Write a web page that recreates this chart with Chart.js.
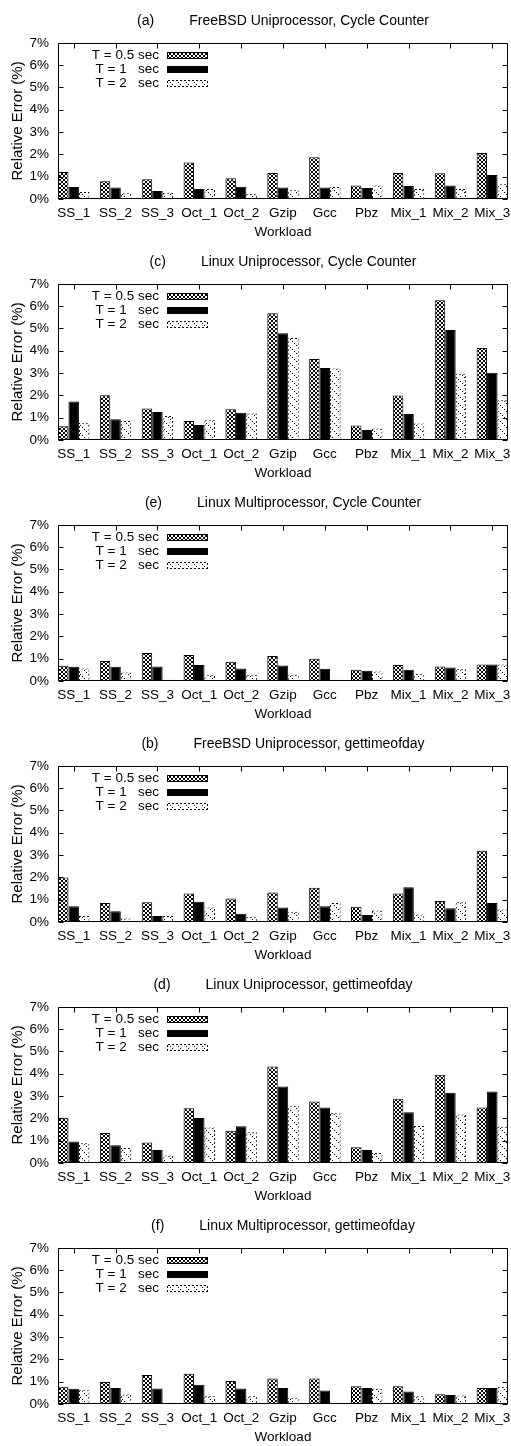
<!DOCTYPE html>
<html>
<head>
<meta charset="utf-8">
<script src="https://cdn.jsdelivr.net/npm/chart.js@4"></script>
<style>
  body { margin: 0; background: #fff; }
  canvas { display: block; }
</style>
</head>
<body>
<canvas id="pa" width="511" height="241"></canvas>
<canvas id="pc" width="511" height="241"></canvas>
<canvas id="pe" width="511" height="241"></canvas>
<canvas id="pb" width="511" height="241"></canvas>
<canvas id="pd" width="511" height="241"></canvas>
<canvas id="pf" width="511" height="241"></canvas>
<script>
Chart.defaults.font.family = '"Liberation Sans", Arial, sans-serif';
Chart.defaults.font.size = 13.5;
Chart.defaults.color = '#000';

const workloads = ['SS_1', 'SS_2', 'SS_3', 'Oct_1', 'Oct_2', 'Gzip', 'Gcc', 'Pbz', 'Mix_1', 'Mix_2', 'Mix_3'];
const periods = ['T = 0.5 sec', 'T = 1   sec', 'T = 2   sec'];
const yTicks = [0, 1, 2, 3, 4, 5, 6, 7];

// (a) FreeBSD Uniprocessor, Cycle Counter
const a05 = [1.21, 0.79, 0.88, 1.64, 0.93, 1.17, 1.87, 0.61, 1.17, 1.15, 2.06];
const a1  = [0.54, 0.51, 0.36, 0.45, 0.55, 0.52, 0.52, 0.49, 0.58, 0.60, 1.08];
const a2  = [0.31, 0.28, 0.28, 0.45, 0.24, 0.39, 0.54, 0.61, 0.45, 0.45, 0.66];
// (c) Linux Uniprocessor, Cycle Counter
const c05 = [0.62, 2.00, 1.41, 0.85, 1.38, 5.68, 3.63, 0.65, 1.99, 6.26, 4.12];
const c1  = [1.72, 0.93, 1.26, 0.67, 1.22, 4.78, 3.23, 0.45, 1.16, 4.93, 3.01];
const c2  = [0.77, 0.85, 1.07, 0.89, 1.19, 4.57, 3.20, 0.52, 0.74, 2.97, 1.78];
// (e) Linux Multiprocessor, Cycle Counter
const e05 = [0.68, 0.90, 1.26, 1.17, 0.86, 1.12, 1.00, 0.50, 0.72, 0.65, 0.74];
const e1  = [0.64, 0.64, 0.65, 0.72, 0.56, 0.69, 0.55, 0.46, 0.50, 0.60, 0.74];
const e2  = [0.56, 0.38, 0.06, 0.28, 0.28, 0.28, 0.06, 0.43, 0.32, 0.53, 0.74];
// (b) FreeBSD Uniprocessor, gettimeofday
const b05 = [1.99, 0.85, 0.88, 1.28, 1.05, 1.32, 1.53, 0.68, 1.28, 0.94, 3.19];
const b1  = [0.71, 0.48, 0.27, 0.91, 0.37, 0.65, 0.71, 0.31, 1.56, 0.62, 0.85];
const b2  = [0.27, 0.16, 0.27, 0.65, 0.24, 0.46, 0.85, 0.52, 0.34, 0.89, 0.56];
// (d) Linux Uniprocessor, gettimeofday
const d05 = [2.03, 1.34, 0.92, 2.45, 1.45, 4.32, 2.76, 0.71, 2.88, 3.95, 2.49];
const d1  = [0.96, 0.80, 0.58, 2.02, 1.65, 3.43, 2.49, 0.58, 2.27, 3.15, 3.20];
const d2  = [0.89, 0.67, 0.34, 1.59, 1.38, 2.57, 2.23, 0.45, 1.66, 2.17, 1.63];
// (f) Linux Multiprocessor, gettimeofday
const f05 = [0.77, 0.99, 1.30, 1.36, 1.03, 1.14, 1.14, 0.80, 0.80, 0.44, 0.72];
const f1  = [0.68, 0.72, 0.69, 0.86, 0.69, 0.72, 0.61, 0.72, 0.56, 0.40, 0.72];
const f2  = [0.62, 0.43, 0.06, 0.35, 0.35, 0.28, 0.06, 0.68, 0.35, 0.38, 0.77];

// little pixel tiles for the gnuplot style fills
function tile(size, ink) {
  const c = document.createElement('canvas');
  c.width = size; c.height = size;
  const g = c.getContext('2d');
  g.fillStyle = '#fff';
  g.fillRect(0, 0, size, size);
  g.fillStyle = '#000';
  for (let y = 0; y < size; y++)
    for (let x = 0; x < size; x++)
      if (ink(x, y)) g.fillRect(x, y, 1, 1);
  return g.createPattern(c, 'repeat');
}

const crossFill = tile(4, (x, y) => x === y || x + y === 3);
const dotFill = tile(8, (x, y) => x === y && x % 2 === 0);
const dotEdge = tile(4, (x, y) => (x + y) % 4 < 2);
const fills = [crossFill, '#000', dotFill];
const edges = ['#000', '#000', dotEdge];

// box round the plot, with the ticks pointing inwards
const framePlugin = {
  id: 'frame',
  afterDatasetsDraw(chart) {
    const { ctx, chartArea: a, scales: { x, y } } = chart;
    const L = Math.round(a.left) + 0.5, R = Math.round(a.right) - 0.5;
    const T = Math.round(a.top) + 0.5, B = Math.round(a.bottom) - 0.5;
    ctx.save();
    ctx.strokeStyle = '#000';
    ctx.lineWidth = 1;
    ctx.beginPath();
    x.ticks.forEach(t => {
      const px = Math.round(x.getPixelForValue(t.value)) + 0.5;
      ctx.moveTo(px, T); ctx.lineTo(px, T + 5);
      ctx.moveTo(px, B); ctx.lineTo(px, B - 5);
    });
    y.ticks.forEach(t => {
      const py = Math.round(y.getPixelForValue(t.value)) + 0.5;
      ctx.moveTo(L, py); ctx.lineTo(L + 5, py);
      ctx.moveTo(R, py); ctx.lineTo(R - 5, py);
    });
    ctx.rect(L, T, R - L, B - T);
    ctx.stroke();
    ctx.restore();
  }
};

// key in the top left corner, text first then the sample
const keyPlugin = {
  id: 'key',
  afterDraw(chart) {
    const { ctx, chartArea: a } = chart;
    const left = Math.round(a.left), top = Math.round(a.top);
    ctx.save();
    ctx.font = '13.5px "Liberation Sans", Arial, sans-serif';
    ctx.textAlign = 'right';
    ctx.textBaseline = 'middle';
    chart.data.datasets.forEach((ds, k) => {
      const cy = top + 12 + k * 14;
      ctx.fillStyle = '#000';
      ctx.fillText(ds.label, left + 101, cy);
      const bx = left + 109, by = cy - 3, bw = 41, bh = 7;
      ctx.fillStyle = ds.borderColor;
      ctx.fillRect(bx, by, bw, bh);
      ctx.fillStyle = ds.backgroundColor;
      ctx.fillRect(bx + 1, by + 1, bw - 2, bh - 2);
    });
    ctx.restore();
  }
};

function drawPanel(id, title, series) {
  new Chart(document.getElementById(id), {
    type: 'bar',
    data: {
      datasets: series.map((vals, k) => ({
        label: periods[k],
        data: vals.map((v, i) => ({ x: i, y: v })),
        backgroundColor: fills[k],
        borderColor: edges[k],
        borderWidth: 1,
        categoryPercentage: 0.75,
        barPercentage: 1
      }))
    },
    options: {
      responsive: false,
      animation: false,
      events: [],
      layout: { padding: { left: 0, right: 3, top: 0, bottom: 0 } },
      plugins: {
        legend: { display: false },
        tooltip: { enabled: false },
        title: {
          display: true,
          text: title,
          fullSize: false,
          color: '#000',
          font: { size: 14, weight: 'normal' },
          padding: { top: 13, bottom: 13 }
        }
      },
      scales: {
        x: {
          type: 'linear',
          min: -0.375,
          max: 10.375,
          offset: false,
          grid: { display: false, drawTicks: false },
          border: { display: false },
          afterBuildTicks: s => { s.ticks = workloads.map((w, i) => ({ value: i })); },
          ticks: { callback: v => workloads[v], autoSkip: false, maxRotation: 0, padding: 6 },
          title: { display: true, text: 'Workload', padding: { top: 0, bottom: 1 } },
          afterFit: s => { s.height = 42; s.paddingLeft = 0; s.paddingRight = 0; }
        },
        y: {
          min: 0,
          max: 7,
          grid: { display: false, drawTicks: false },
          border: { display: false },
          afterBuildTicks: s => { s.ticks = yTicks.map(v => ({ value: v })); },
          ticks: { callback: v => v + '%', padding: 9 },
          title: { display: true, text: 'Relative Error (%)', font: { size: 15 }, padding: { top: 9, bottom: 0 } },
          afterFit: s => { s.width = 58; s.paddingTop = 0; s.paddingBottom = 0; }
        }
      }
    },
    plugins: [framePlugin, keyPlugin]
  });
}

drawPanel('pa', '(a)         FreeBSD Uniprocessor, Cycle Counter', [a05, a1, a2]);
drawPanel('pc', '(c)         Linux Uniprocessor, Cycle Counter', [c05, c1, c2]);
drawPanel('pe', '(e)         Linux Multiprocessor, Cycle Counter', [e05, e1, e2]);
drawPanel('pb', '(b)         FreeBSD Uniprocessor, gettimeofday', [b05, b1, b2]);
drawPanel('pd', '(d)         Linux Uniprocessor, gettimeofday', [d05, d1, d2]);
drawPanel('pf', '(f)         Linux Multiprocessor, gettimeofday', [f05, f1, f2]);
</script>
</body>
</html>
